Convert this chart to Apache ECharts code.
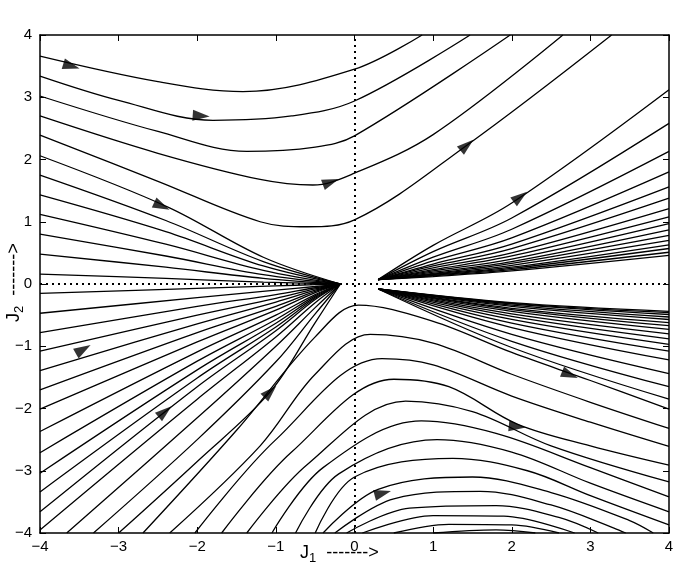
<!DOCTYPE html>
<html><head><meta charset="utf-8">
<script src="https://cdn.jsdelivr.net/npm/echarts@6/dist/echarts.min.js"></script>
<style>html,body{margin:0;background:#fff}#c{width:680px;height:574px}</style>
</head><body><div id="c"></div>
<script>
const xTicks = [-4,-3,-2,-1,0,1,2,3,4];
const yTicks = [-4,-3,-2,-1,0,1,2,3,4];
const xTitle = ['J','1','  ------->'];
const yTitle = ['J','2','  ------->'];

// upper hyperbola-like trajectories
const upperCurves = [
  [[-4,3.66],[-2.5,3.25],[-1.42,3.09],[0,3.45],[0.86,4]],
  [[-4,3.34],[-3,2.95],[-1.8,2.63],[-0.8,2.7],[0,2.94],[1.47,4]],
  [[-4,3.02],[-2.5,2.45],[-1.37,2.13],[-0.5,2.2],[0,2.38],[1.98,4]],
  [[-4,2.70],[-2.5,2.1],[-1.2,1.68],[-0.53,1.59],[0,1.78],[1,2.4],[2.65,4]],
  [[-4,2.39],[-2.5,1.65],[-1.2,1.0],[-0.6,0.92],[0,1.03],[1.43,2.23],[3.27,4]]
];
// upper-left trajectories into the node
const upperLeftCurves = [
  [[-4,2.06],[-2.38,1.24],[-1.16,0.43],[-0.18,0]],
  [[-4,1.75],[-2.4,1.02],[-1.16,0.36],[-0.18,0]],
  [[-4,1.43],[-2.4,0.84],[-1.16,0.29],[-0.18,0]],
  [[-4,1.12],[-2.4,0.64],[-1.16,0.22],[-0.18,0]],
  [[-4,0.80],[-2.4,0.45],[-1.16,0.15],[-0.18,0]],
  [[-4,0.48],[-2.4,0.27],[-1.16,0.09],[-0.18,0]],
  [[-4,0.16],[-2.4,0.09],[-1.16,0.03],[-0.18,0]]
];
// upper-right fan: y at x=1, x=2, x=4
const urAt1 = [0.62,0.52,0.43,0.37,0.32,0.29,0.26,0.23,0.21,0.19,0.17,0.16,0.15,0.14,0.13,0.12];
const urAt2 = [1.30,1.06,0.88,0.74,0.64,0.57,0.50,0.45,0.40,0.36,0.33,0.30,0.27,0.25,0.23,0.21];
const urAt4 = [3.12,2.58,2.13,1.80,1.56,1.38,1.21,1.08,0.97,0.87,0.78,0.70,0.63,0.57,0.51,0.46];
// lower-right fan: y at x=2, x=4
const lrAt2 = [-1.02,-0.92,-0.81,-0.70,-0.63,-0.57,-0.52,-0.48,-0.44,-0.41,-0.39,-0.36,-0.34,-0.32,-0.31,-0.30];
const lrAt4 = [-1.85,-1.65,-1.44,-1.22,-1.08,-0.97,-0.88,-0.80,-0.73,-0.67,-0.62,-0.57,-0.53,-0.49,-0.46,-0.44];
// lower-left trajectories from left edge: y at x=-4,-2,-1,-0.5
const llAtM4 = [-0.15,-0.47,-0.78,-1.08,-1.39,-1.70,-2.01,-2.37,-2.71,-3.04,-3.34,-3.66,-3.95];
const llAtM2 = [-0.07,-0.22,-0.36,-0.50,-0.64,-0.78,-0.93,-1.09,-1.24,-1.38,-1.51,-1.65,-1.85];
const llAtM1 = [-0.03,-0.10,-0.17,-0.23,-0.29,-0.36,-0.42,-0.50,-0.57,-0.63,-0.69,-0.75,-0.85];
const llAtMh = [-0.01,-0.04,-0.06,-0.08,-0.10,-0.12,-0.14,-0.17,-0.19,-0.21,-0.23,-0.25,-0.30];
// lower-left trajectories from bottom edge into the node
const bottomNodeCurves = [
  [[-3.66,-4],[-2,-2.15],[-1,-1.0],[-0.5,-0.38],[-0.18,0]],
  [[-3.32,-4],[-2,-2.5],[-1,-1.25],[-0.5,-0.48],[-0.18,0]],
  [[-3.0,-4],[-2,-2.85],[-1.07,-1.73],[-0.5,-0.62],[-0.18,0]]
];
// lower humps
const humpCurves = [
  [[-2.69,-4],[-1.5,-2.35],[-0.5,-0.85],[0.05,-0.34],[1,-0.6],[2,-1.1],[3,-1.55],[4,-2.01]],
  [[-2.35,-4],[-1.2,-2.6],[-0.5,-1.45],[0.2,-0.81],[1,-0.95],[2,-1.45],[3,-1.9],[4,-2.32]],
  [[-2.03,-4],[-1,-2.5],[0.35,-1.2],[1,-1.3],[2,-1.8],[3,-2.22],[4,-2.61]],
  [[-1.69,-4],[-0.8,-2.7],[0.5,-1.53],[1.2,-1.65],[2.07,-2.25],[3,-2.6],[4,-2.91]],
  [[-1.37,-4],[-0.6,-2.9],[0.65,-1.88],[1.5,-2.05],[2.5,-2.6],[4,-3.18]],
  [[-1.05,-4],[-0.4,-2.95],[0.85,-2.2],[1.8,-2.4],[3,-2.95],[4,-3.42]],
  [[-0.75,-4],[-0.2,-3.05],[1.05,-2.5],[2,-2.7],[3,-3.2],[4,-3.66]],
  [[-0.5,-4],[0,-3.1],[1.25,-2.8],[2.2,-3.0],[3,-3.4],[4,-3.87]],
  [[-0.4,-4],[0.3,-3.3],[1.5,-3.1],[2.5,-3.35],[3.5,-3.8],[3.8,-4]],
  [[-0.25,-4],[0.5,-3.45],[1.6,-3.33],[2.5,-3.55],[3.3,-3.92],[3.45,-4]],
  [[-0.1,-4],[0.7,-3.6],[1.8,-3.56],[2.6,-3.75],[3.1,-4]],
  [[0.1,-4],[1,-3.72],[1.9,-3.73],[2.8,-4]],
  [[0.5,-4],[1.2,-3.86],[2.0,-3.87],[2.6,-4]],
  [[1.0,-4],[1.8,-3.95],[2.3,-4]]
];
// arrowheads: x, y, direction in degrees (screen, counter-clockwise from +x)
const arrows = [
  [-3.6,3.5,-17],[-1.95,2.7,-4],[-0.3,1.64,20],[-2.45,1.25,-25],
  [1.43,2.23,40],[2.11,1.40,37],[-3.45,-1.05,30],[-2.41,-2.05,40],
  [-1.07,-1.73,45],[2.74,-1.46,-22],[2.07,-2.29,-6],[0.36,-3.36,15]
];

const curves = [].concat(upperCurves, upperLeftCurves, bottomNodeCurves, humpCurves);
urAt4.forEach((e,i)=>curves.push([[0.3,0.07],[1,urAt1[i]],[2,urAt2[i]],[4,e]]));
lrAt4.forEach((e,i)=>curves.push([[0.3,-0.08],[2,lrAt2[i]],[4,e]]));
llAtM4.forEach((s,i)=>curves.push([[-4,s],[-2,llAtM2[i]],[-1,llAtM1[i]],[-0.5,llAtMh[i]],[-0.18,0]]));

const font = 'Liberation Sans';
const series = curves.map(c=>({type:'line',data:c,smooth:0.35,showSymbol:false,silent:true,
  lineStyle:{color:'#000',width:1.3},clip:true}));
series.push({type:'scatter',data:arrows.map(a=>({value:[a[0],a[1]],symbolRotate:a[2]-90})),
  symbol:'triangle',symbolSize:[11,17],itemStyle:{color:'#000'},z:5});
series.push({type:'line',data:[],markLine:{silent:true,symbol:'none',label:{show:false},
  lineStyle:{color:'#000',type:[2,4],width:2},data:[{xAxis:0},{yAxis:0}]}});

const rich = {j:{fontFamily:font,fontSize:18,fill:'#000'},s:{fontFamily:font,fontSize:13,fill:'#000',padding:[10,0,0,0]}};
const title = t => '{j|'+t[0]+'}{s|'+t[1]+'}{j|'+t[2]+'}';
const axBase = {min:-4,max:4,interval:1,axisLine:{show:true,onZero:false,lineStyle:{color:'#000',width:1.5}},
  axisTick:{inside:true,length:6,lineStyle:{color:'#000'}},splitLine:{show:false}};
const chart = echarts.init(document.getElementById('c'));
chart.setOption({
  animation:false,
  grid:{left:40,right:11,top:35,bottom:41,containLabel:false,outerBoundsMode:'none'},
  graphic:[
    {type:'text',left:300,top:544,style:{text:title(xTitle),rich:rich}},
    {type:'text',x:3,y:322,rotation:Math.PI/2,style:{text:title(yTitle),rich:rich,verticalAlign:'top'}}
  ],
  xAxis:[
    Object.assign({},axBase,{type:'value',position:'bottom',
      axisLabel:{color:'#000',fontFamily:font,fontSize:15,margin:6,formatter:v=>xTicks.includes(v)?String(v).replace('-','\u2212'):''}}),
    Object.assign({},axBase,{type:'value',position:'top',axisLabel:{show:false}})
  ],
  yAxis:[
    Object.assign({},axBase,{type:'value',position:'left',
      axisLabel:{color:'#000',fontFamily:font,fontSize:15,margin:8,formatter:v=>yTicks.includes(v)?String(v).replace('-','\u2212'):''}}),
    Object.assign({},axBase,{type:'value',position:'right',axisLabel:{show:false}})
  ],
  series:series
});
</script></body></html>
